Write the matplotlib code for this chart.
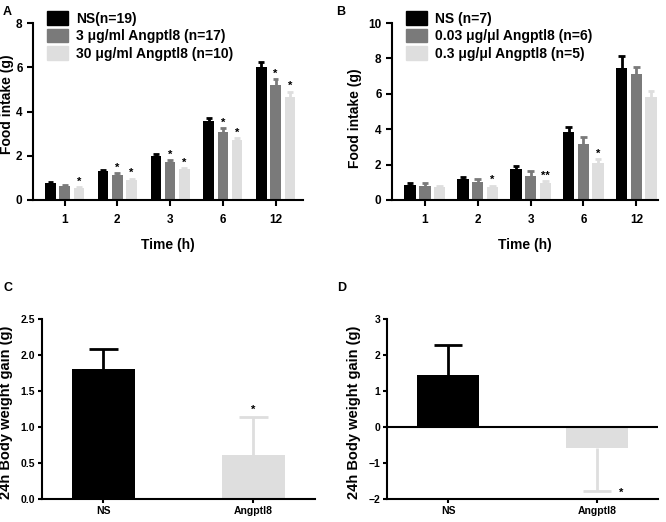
import numpy as np
import matplotlib.pyplot as plt
from matplotlib.patches import Patch

plt.rcParams['font.family'] = ['Liberation Sans', 'DejaVu Sans']
plt.rcParams['font.weight'] = 'bold'

# panel A: food intake, 3 groups
times = ["1", "2", "3", "6", "12"]
a_labels = ["NS(n=19)", "3 μg/ml Angptl8 (n=17)", "30 μg/ml Angptl8 (n=10)"]
a_ns = [0.75, 1.32, 2.00, 3.57, 6.00]
a_ns_err = [0.05, 0.05, 0.06, 0.12, 0.22]
a_low = [0.63, 1.13, 1.70, 3.09, 5.20]
a_low_err = [0.03, 0.09, 0.09, 0.15, 0.25]
a_high = [0.53, 0.92, 1.40, 2.70, 4.64]
a_high_err = [0.06, 0.04, 0.04, 0.10, 0.26]
a_low_star = [False, True, True, True, True]
a_high_star = [True, True, True, True, True]

# panel B
b_labels = ["NS (n=7)", "0.03 μg/μl Angptl8 (n=6)", "0.3 μg/μl Angptl8 (n=5)"]
b_ns = [0.83, 1.20, 1.76, 3.86, 7.47]
b_ns_err = [0.15, 0.08, 0.14, 0.24, 0.65]
b_low = [0.80, 1.01, 1.33, 3.19, 7.11]
b_low_err = [0.16, 0.19, 0.30, 0.39, 0.41]
b_high = [0.71, 0.75, 0.96, 2.08, 5.83]
b_high_err = [0.06, 0.05, 0.09, 0.22, 0.34]
b_high_stars = ["", "*", "**", "*", ""]

# panels C and D: 24h body weight gain
groups = ["NS", "Angptl8"]
c_vals = [1.80, 0.61]
c_err = [0.28, 0.53]
d_vals = [1.45, -0.59]
d_err = [0.84, 1.19]

colors = ["#000000", "#7a7a7a", "#dedede"]
W, H = 666, 522


def add_ax(fig, l, t, r, b):
    return fig.add_axes([l / W, 1 - b / H, (r - l) / W, (b - t) / H])


def style(ax, size=8.5):
    for s in ["top", "right"]:
        ax.spines[s].set_visible(False)
    for s in ["left", "bottom"]:
        ax.spines[s].set_linewidth(1.5)
    ax.tick_params(width=1.5, length=4, labelsize=size)
    for lab in ax.get_xticklabels() + ax.get_yticklabels():
        lab.set_fontweight("bold")


def err_bar(ax, x, val, err, color, capw, lw=2):
    # one-sided error bar, drawn behind the bar
    end = val + err
    ax.vlines(x, val, end, color=color, lw=lw, zorder=1)
    ax.hlines(end, x - capw / 2, x + capw / 2, color=color, lw=lw, zorder=1)


def grouped(ax, series, errs, width, step):
    x = np.arange(len(times))
    for i, (vals, err) in enumerate(zip(series, errs)):
        xi = x + (i - 1) * step
        ax.bar(xi, vals, width, color=colors[i], zorder=2)
        for j in range(len(vals)):
            err_bar(ax, xi[j], vals[j], err[j], colors[i], width * 0.55)
    ax.set_xticks(x)
    ax.set_xticklabels(times)
    return x


def legend(ax, labels, x0):
    ax.legend([Patch(color=c) for c in colors], labels, loc="upper left",
              bbox_to_anchor=(x0, 1.065), frameon=False, fontsize=10,
              handlelength=1.5, handleheight=1.1, labelspacing=0.22,
              handletextpad=0.6, borderaxespad=0, borderpad=0)


fig = plt.figure(figsize=(W / 100, H / 100), dpi=100)

# A
ax = add_ax(fig, 33, 23, 303, 200)
x = grouped(ax, [a_ns, a_low, a_high], [a_ns_err, a_low_err, a_high_err], 0.2, 0.27)
for i, (vals, err, stars) in enumerate([(a_low, a_low_err, a_low_star), (a_high, a_high_err, a_high_star)]):
    for j in range(len(times)):
        if stars[j]:
            ax.text(x[j] + i * 0.27, vals[j] + err[j] + 0.02, "*", ha="center", va="bottom", fontsize=8)
ax.set_ylim(0, 8)
ax.set_yticks([0, 2, 4, 6, 8])
ax.set_xlim(-0.6, 4.52)
ax.set_ylabel("Food intake (g)", fontsize=10, fontweight="bold")
ax.yaxis.set_label_coords(-0.07, 0.54)
ax.set_xlabel("Time (h)", fontsize=10, fontweight="bold")
ax.xaxis.set_label_coords(0.5, -0.215)
style(ax)
ax.tick_params(axis="x", pad=6)
legend(ax, a_labels, 0.052)

# B
ax = add_ax(fig, 392, 23, 658, 200)
x = grouped(ax, [b_ns, b_low, b_high], [b_ns_err, b_low_err, b_high_err], 0.22, 0.28)
for j, s in enumerate(b_high_stars):
    if s:
        ax.text(x[j] + 0.28, b_high[j] + b_high_err[j] + 0.05, s, ha="center", va="bottom", fontsize=8)
ax.set_ylim(0, 10)
ax.set_yticks([0, 2, 4, 6, 8, 10])
ax.set_xlim(-0.62, 4.41)
ax.set_ylabel("Food intake (g)", fontsize=10, fontweight="bold")
ax.yaxis.set_label_coords(-0.113, 0.46)
ax.set_xlabel("Time (h)", fontsize=10, fontweight="bold")
ax.xaxis.set_label_coords(0.5, -0.215)
style(ax)
ax.tick_params(axis="x", pad=6)
legend(ax, b_labels, 0.053)

# C
ax = add_ax(fig, 42, 319, 315, 499)
xc = np.arange(len(groups))
bar_cols = [colors[0], colors[2]]
ax.bar(xc, c_vals, 0.42, color=bar_cols, zorder=2)
for i in range(len(groups)):
    err_bar(ax, xc[i], c_vals[i], c_err[i], bar_cols[i], 0.19)
ax.text(xc[1], c_vals[1] + c_err[1] + 0.03, "*", ha="center", va="bottom", fontsize=8)
ax.set_ylim(0, 2.5)
ax.set_yticks([0, 0.5, 1.0, 1.5, 2.0, 2.5])
ax.set_yticklabels(["0.0", "0.5", "1.0", "1.5", "2.0", "2.5"])
ax.set_xlim(-0.41, 1.41)
ax.set_xticks(xc)
ax.set_xticklabels(groups)
ax.set_ylabel("24h Body weight gain (g)", fontsize=10.5, fontweight="bold")
ax.yaxis.set_label_coords(-0.106, 0.48)
style(ax, 7.5)
ax.tick_params(length=3, pad=2)

# D
ax = add_ax(fig, 387, 319, 658, 499)
ax.bar(xc, d_vals, 0.42, color=bar_cols, zorder=2)
err_bar(ax, xc[0], d_vals[0], d_err[0], bar_cols[0], 0.19)
err_bar(ax, xc[1], d_vals[1], -d_err[1], bar_cols[1], 0.19)
ax.text(xc[1] + 0.16, d_vals[1] - d_err[1] - 0.05, "*", ha="center", va="center", fontsize=8)
ax.axhline(0, color="black", lw=1.5, zorder=3)
ax.set_ylim(-2, 3)
ax.set_yticks([-2, -1, 0, 1, 2, 3])
ax.set_xlim(-0.41, 1.41)
ax.set_xticks(xc)
ax.set_xticklabels(groups)
ax.set_ylabel("24h Body weight gain (g)", fontsize=10.5, fontweight="bold")
ax.yaxis.set_label_coords(-0.096, 0.48)
style(ax, 7.5)
ax.tick_params(length=3, pad=2)

for lbl, px, py in [("A", 3, 12), ("B", 336, 12), ("C", 3, 288), ("D", 337, 288)]:
    fig.text(px / W, 1 - py / H, lbl, fontsize=9, fontweight="bold", va="center")

fig.savefig("out.png", dpi=100)
